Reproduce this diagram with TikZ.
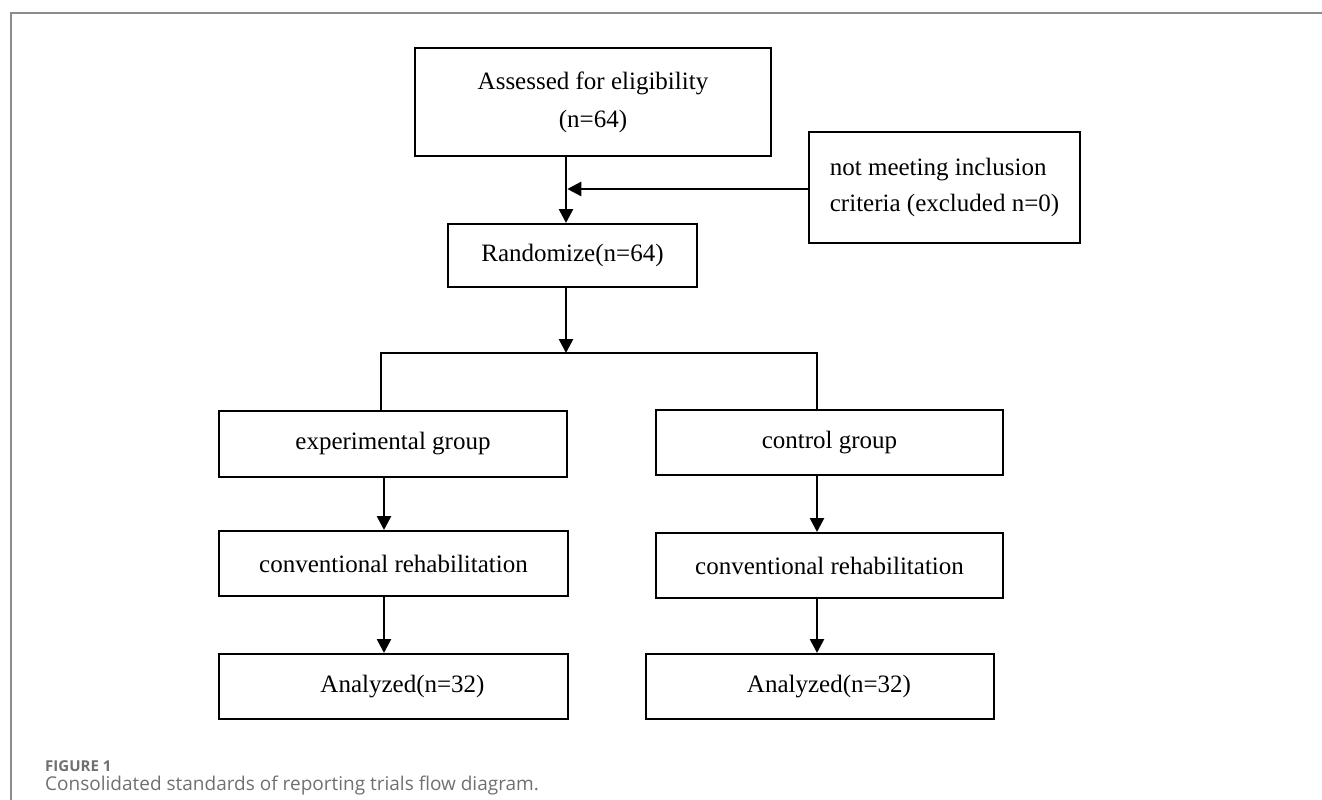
\documentclass[tikz,border=0pt]{standalone}
\usepackage{fontspec}
\setmainfont{Liberation Serif}
\newfontfamily\capfont{Open Sans}
\usetikzlibrary{arrows.meta}
\definecolor{framegray}{HTML}{8C8C8C}
\definecolor{capgray}{HTML}{707070}
\tikzset{
  box/.style={draw, line width=2pt, inner sep=0pt, align=center,
    font=\fontsize{25}{38}\selectfont},
  conn/.style={line width=2.6pt},
  arr/.style={conn, -{Triangle[length=14pt,width=14pt]}},
}
\begin{document}
\begin{tikzpicture}[x=1pt,y=-1pt]
\useasboundingbox (0,0) rectangle (1322,800);
\draw[framegray, line width=1.5pt] (1322,13) -- (11,13) -- (11,800);

\node[box, minimum width=356pt, minimum height=108pt] (A) at (593,102)
  {Assessed for eligibility\\(n=64)};
\node[box, minimum width=271pt, minimum height=111pt, align=left, font=\fontsize{25}{36}\selectfont] (S) at (944.5,187.5)
  {not meeting inclusion\\criteria (excluded n=0)};
\node[box, minimum width=249pt, minimum height=63pt] (R) at (572.5,255.5)
  {Randomize(n=64)};
\node[box, minimum width=348pt, minimum height=66pt] (E1) at (393,444)
  {experimental group};
\node[box, minimum width=347pt, minimum height=65pt] (C1) at (829.5,442.5)
  {control group};
\node[box, minimum width=349pt, minimum height=65pt] (E2) at (393.5,563.5)
  {conventional rehabilitation};
\node[box, minimum width=347pt, minimum height=65pt] (C2) at (829.5,565.5)
  {conventional rehabilitation};
\node[box, minimum width=349pt, minimum height=65pt] (E3) at (393.5,686.5)
  {\hspace*{18pt}Analyzed(n=32)};
\node[box, minimum width=348pt, minimum height=65pt] (C3) at (820,686.5)
  {\hspace*{18pt}Analyzed(n=32)};

\coordinate (mx) at (566,189);
\coordinate (split) at (566,353);
\coordinate (sl) at (381,353);
\coordinate (sr) at (817,353);
\coordinate (ex) at (384,0);

\draw[arr] (A.south -| mx) -- (R.north -| mx);
\draw[arr, shorten >=1.3pt] (S.west |- mx) -- (mx);
\draw[arr] (R.south -| split) -- (split);
\draw[conn] (E1.north -| sl) -- (sl) -- (sr) -- (C1.north -| sr);
\draw[arr] (E1.south -| ex) -- (E2.north -| ex);
\draw[arr] (E2.south -| ex) -- (E3.north -| ex);
\draw[arr] (C1.south -| sr) -- (C2.north -| sr);
\draw[arr] (C2.south -| sr) -- (C3.north -| sr);

\node[anchor=base west, inner sep=0pt, text=capgray, font=\capfont\bfseries\fontsize{15}{15}\selectfont] (fig) at (45,771) {FIGURE 1};
\node[anchor=base west, inner sep=0pt, text=capgray, font=\capfont\fontsize{19}{19}\selectfont] (cap) at (45,790) {Consolidated standards of reporting trials flow diagram.};
\end{tikzpicture}
\end{document}
